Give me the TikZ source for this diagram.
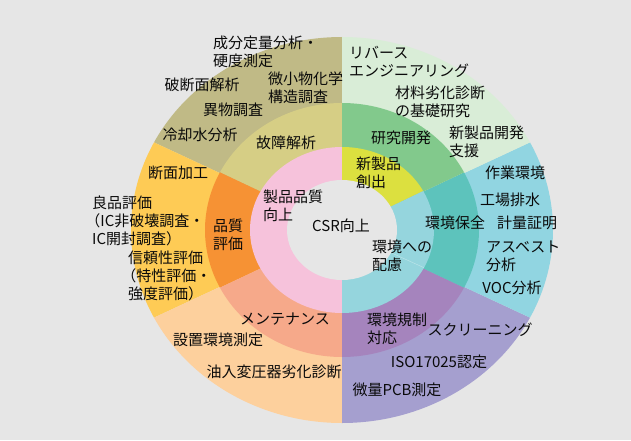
\documentclass[tikz,border=0pt]{standalone}
\usepackage{fontspec}
\newfontfamily\jpfont{Noto Sans CJK JP}
\definecolor{bg}{HTML}{E6E6E6}
\definecolor{txt}{HTML}{0A0A0A}
\definecolor{oliveO}{HTML}{C0BA86}
\definecolor{oliveM}{HTML}{D6CE85}
\definecolor{lgreenO}{HTML}{D9EDD7}
\definecolor{greenM}{HTML}{82C98C}
\definecolor{ygreenI}{HTML}{DCE03F}
\definecolor{blueO}{HTML}{91D5E1}
\definecolor{tealM}{HTML}{5DC3BC}
\definecolor{lblueI}{HTML}{95D5DD}
\definecolor{lavO}{HTML}{A59FCF}
\definecolor{purpM}{HTML}{A584BD}
\definecolor{peachO}{HTML}{FDD09D}
\definecolor{salmM}{HTML}{F6A98A}
\definecolor{yellowO}{HTML}{FECB55}
\definecolor{orangeM}{HTML}{F69234}
\definecolor{pinkI}{HTML}{F6C2DB}
\newcommand{\ringsect}[5]{%
  \fill[#1] (0,0) -- (#2:#4 and #5) arc[start angle=#2,end angle=#3,x radius=#4,y radius=#5] -- cycle;}
\tikzset{
  lbl/.style={font=\jpfont\fontsize{15}{18}\selectfont, inner sep=0pt, text=txt},
  lft/.style={lbl, align=left, anchor=west}
}
\begin{document}
\begin{tikzpicture}[x=1pt,y=1pt]
\fill[bg] (0,0) rectangle (631,440);
\useasboundingbox (0,0) rectangle (631,440);
\begin{scope}[shift={(342,210)}]
  % outer ring
  \ringsect{oliveO}{90}{153}{211}{193}
  \ringsect{yellowO}{153}{207}{211}{193}
  \ringsect{peachO}{207}{270}{211}{193}
  \ringsect{lavO}{270}{333}{211}{193}
  \ringsect{blueO}{-27}{27}{211}{193}
  \ringsect{lgreenO}{27}{90}{211}{193}
  % middle ring
  \ringsect{oliveM}{90}{153}{137}{127}
  \ringsect{orangeM}{153}{207}{137}{127}
  \ringsect{salmM}{207}{270}{137}{127}
  \ringsect{purpM}{270}{333}{137}{127}
  \ringsect{tealM}{-27}{27}{137}{127}
  \ringsect{greenM}{27}{90}{137}{127}
  % inner ring
  \ringsect{pinkI}{90}{270}{92}{83}
  \ringsect{ygreenI}{28}{90}{92}{83}
  \ringsect{lblueI}{-90}{28}{92}{83}
  \draw[white!35!lblueI, line width=0.5pt] (-27:55 and 50) -- (-27:92 and 83);
  % centre
  \fill[bg] (0,0) ellipse[x radius=55, y radius=50];
\end{scope}
% outer ring texts
\node[lft] (t1) at (213,388.5) {成分定量分析・\\硬度測定};
\node[lbl] (t2) at (202,355) {破断面解析};
\node[lft] (t3) at (268,352) {微小物化学\\構造調査};
\node[lbl] (t4) at (233,330) {異物調査};
\node[lbl] (t5) at (200,305) {冷却水分析};
\node[lft] (t7) at (349,378) {リバース\\エンジニアリング};
\node[lft] (t8) at (395,338.5) {材料劣化診断\\の基礎研究};
\node[lft] (t9) at (449,298) {新製品開発\\支援};
\node[lbl] (t12) at (515,267) {作業環境};
\node[lbl] (t13) at (510,240) {工場排水};
\node[lbl] (t15) at (527,217) {計量証明};
\node[lft] (t16) at (486,183.5) {アスベスト\\分析};
\node[lbl] (t17) at (512,152) {VOC分析};
\node[lbl] (t21) at (178,267) {断面加工};
\node[lft] (t22) at (92,219.5) {良品評価\\\kern-0.45em（IC非破壊調査・\\IC開封調査）};
\node[lft] (t24) at (128,164) {信頼性評価\\\kern-0.45em（特性評価・\\強度評価）};
\node[lbl] (t26) at (218,100) {設置環境測定};
\node[lbl] (t27) at (274,68) {油入変圧器劣化診断};
\node[lbl] (t29) at (480,110) {スクリーニング};
\node[lbl] (t30) at (439,78) {ISO17025認定};
\node[lbl] (t31) at (397,50) {微量PCB測定};
% middle ring texts
\node[lbl] (t6) at (286,297) {故障解析};
\node[lbl] (t10) at (401,302) {研究開発};
\node[lbl] (t14) at (455,217) {環境保全};
\node[lft] (t23) at (213,205.5) {品質\\評価};
\node[lbl] (t25) at (285,121) {メンテナンス};
\node[lft] (t28) at (367,111.5) {環境規制\\対応};
% inner ring texts
\node[lft] (t11) at (356,267) {新製品\\創出};
\node[lft] (t18) at (372,184) {環境への\\配慮};
\node[lft] (t20) at (263,234.5) {製品品質\\向上};
\node[lbl] (t19) at (341,214) {CSR向上};
\end{tikzpicture}
\end{document}
